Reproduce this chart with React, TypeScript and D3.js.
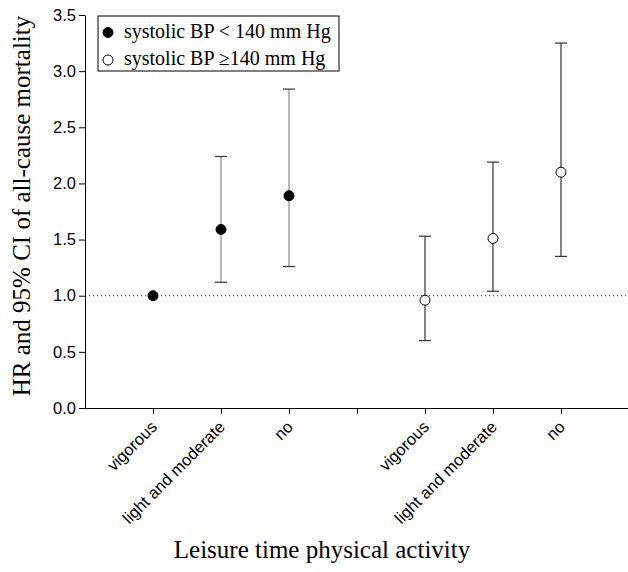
import React, { useEffect, useRef } from "react";
import * as d3 from "d3";

const width = 628;
const height = 572;
const margin = { top: 15, right: 0, bottom: 164, left: 85 };

const categories = ["vigorous", "light and moderate", "no"];
const groups = ["systolic BP < 140 mm Hg", "systolic BP \u2265140 mm Hg"];
const positions = [1, 2, 3, 5, 6, 7];
const tickPositions = [1, 2, 3, 4, 5, 6, 7];
const hr = [1.0, 1.59, 1.89, 0.96, 1.51, 2.1];
const lower = [1.0, 1.12, 1.26, 0.6, 1.04, 1.35];
const upper = [1.0, 2.24, 2.84, 1.53, 2.19, 3.25];
const groupOf = [0, 0, 0, 1, 1, 1];
const yTicks = [0, 0.5, 1, 1.5, 2, 2.5, 3, 3.5];

const serif = "'Liberation Serif', 'Times New Roman', serif";
const sans = "'Liberation Sans', Arial, sans-serif";

export default function App() {
  const ref = useRef<SVGSVGElement>(null);

  useEffect(() => {
    const svg = d3.select(ref.current);
    svg.selectAll("*").remove();

    const x = d3.scaleLinear().domain([0, 8]).range([margin.left, width - margin.right + 1]);
    const y = d3.scaleLinear().domain([0, 3.5]).range([height - margin.bottom, margin.top]);

    // reference line at HR = 1
    svg.append("line")
      .attr("x1", x(0)).attr("x2", x(8))
      .attr("y1", y(1)).attr("y2", y(1))
      .attr("stroke", "#333").attr("stroke-width", 1)
      .attr("stroke-dasharray", "1,3");

    // y axis
    const yAxis = svg.append("g")
      .attr("transform", `translate(${margin.left},0)`)
      .call(d3.axisLeft(y).tickValues(yTicks).tickFormat(d3.format(".1f")).tickSize(6).tickSizeOuter(0));
    yAxis.select(".domain").attr("stroke", "#000");
    yAxis.selectAll("line").attr("stroke", "#000");
    yAxis.selectAll("text")
      .attr("font-family", sans).attr("font-size", 16.5).attr("fill", "#000");

    // x axis
    const xAxis = svg.append("g")
      .attr("transform", `translate(0,${y(0)})`)
      .call(d3.axisBottom(x).tickValues(tickPositions).tickFormat(() => "").tickSize(6).tickSizeOuter(0));
    xAxis.select(".domain").attr("stroke", "#000");
    xAxis.selectAll("line").attr("stroke", "#000");

    // rotated category labels
    positions.forEach((p, i) => {
      svg.append("text")
        .attr("transform", `translate(${x(p) + 5},${y(0) + 20}) rotate(-45)`)
        .attr("text-anchor", "end")
        .attr("font-family", sans).attr("font-size", 16.5)
        .text(categories[i % 3]);
    });

    // error bars
    const bars = svg.append("g");
    positions.forEach((p, i) => {
      if (upper[i] === lower[i]) return;
      const col = groupOf[i] === 0 ? "#888" : "#333";
      bars.append("line")
        .attr("x1", x(p)).attr("x2", x(p))
        .attr("y1", y(lower[i])).attr("y2", y(upper[i]))
        .attr("stroke", col).attr("stroke-width", 1.2);
      [lower[i], upper[i]].forEach(v => {
        bars.append("line")
          .attr("x1", x(p) - 6).attr("x2", x(p) + 6)
          .attr("y1", y(v)).attr("y2", y(v))
          .attr("stroke", "#333").attr("stroke-width", 1.2);
      });
    });

    // points
    svg.append("g").selectAll("circle")
      .data(positions)
      .join("circle")
      .attr("cx", d => x(d))
      .attr("cy", (d, i) => y(hr[i]))
      .attr("r", 5)
      .attr("fill", (d, i) => (groupOf[i] === 0 ? "#000" : "#fff"))
      .attr("stroke", "#000").attr("stroke-width", 1);

    // legend
    const lg = svg.append("g").attr("transform", "translate(98,16)");
    lg.append("rect")
      .attr("width", 241).attr("height", 55)
      .attr("fill", "#fff").attr("stroke", "#000").attr("stroke-width", 1);
    groups.forEach((g, i) => {
      lg.append("circle")
        .attr("cx", 10).attr("cy", 16.5 + i * 27.5).attr("r", 5)
        .attr("fill", i === 0 ? "#000" : "#fff").attr("stroke", "#000");
      lg.append("text")
        .attr("x", 26).attr("y", 22 + i * 27)
        .attr("font-family", serif).attr("font-size", 20)
        .text(g);
    });

    // axis titles
    svg.append("text")
      .attr("transform", `translate(30,206) rotate(-90)`)
      .attr("text-anchor", "middle")
      .attr("font-family", serif).attr("font-size", 25)
      .text("HR and 95% CI of all-cause mortality");
    svg.append("text")
      .attr("x", 322).attr("y", 558)
      .attr("text-anchor", "middle")
      .attr("font-family", serif).attr("font-size", 25)
      .text("Leisure time physical activity");
  }, []);

  return (
    <svg ref={ref} width={width} height={height}
      style={{ position: "absolute", left: 0, top: 0, background: "#fff" }} />
  );
}
